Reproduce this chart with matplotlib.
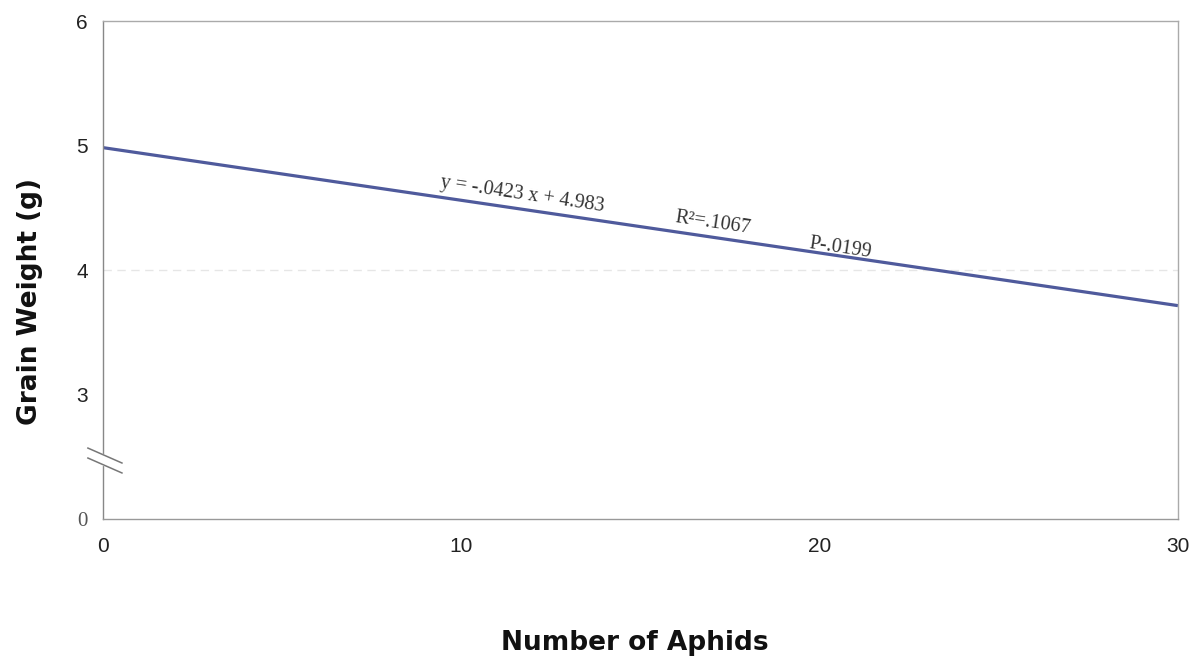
import numpy as np
import matplotlib
matplotlib.use('Agg')
import matplotlib.pyplot as plt

# regression line: y = -.0423 x + 4.983
x_ends = [0, 30]
slope = -0.0423
intercept = 4.983
y_ends = [intercept + slope * x for x in x_ends]

xticks = [0, 10, 20, 30]
# y axis is broken: the "0" label sits one step below 3
ytick_pos = [2, 3, 4, 5, 6]
ytick_lab = ['0', '3', '4', '5', '6']

eq_text = 'y = -.0423 x + 4.983'
r2_text = 'R\u00b2=.1067'
p_text = 'P-.0199'

fig = plt.figure(figsize=(12, 6.65), dpi=100)
ax = fig.add_axes([0.0858, 0.2195, 0.8958, 0.7489])

ax.axhline(4, color='#e6e6e6', lw=1, ls=(0, (6, 4)), zorder=0)
ax.plot(x_ends, y_ends, color='#4f5a9c', lw=2.3, solid_capstyle='butt')

ax.set_xlim(0, 30)
ax.set_ylim(2, 6)
ax.set_xticks(xticks)
ax.set_xticklabels([str(t) for t in xticks], fontsize=15, color='#222222',
                   family='Liberation Sans')
ax.set_yticks(ytick_pos)
ax.set_yticklabels(ytick_lab, fontsize=15, color='#222222',
                   family='Liberation Sans')
ax.tick_params(length=0)
ax.tick_params(axis='y', pad=11)
ax.tick_params(axis='x', pad=13)
ax.get_yticklabels()[0].set_family('Liberation Serif')
ax.get_yticklabels()[0].set_color('#555555')

for s in ax.spines.values():
    s.set_color('#aaaaaa')
    s.set_linewidth(1)
ax.spines['left'].set_color('#888888')
ax.spines['bottom'].set_color('#999999')

# axis break marks with a small gap in the spine
ax.plot([0, 0], [2.445, 2.51], color='white', lw=3, clip_on=False, zorder=5)
for dy in (0.0, 0.08):
    ax.plot([-0.42, 0.53], [2.57 - dy, 2.45 - dy], color='#777777', lw=1.1,
            clip_on=False, zorder=6)

ang = -8.4
for tx, ty, s in [(9.4, 4.667, eq_text), (15.96, 4.386, r2_text),
                  (19.7, 4.177, p_text)]:
    ax.text(tx, ty, s, rotation=ang, rotation_mode='anchor',
            family='Liberation Serif', fontsize=14.5, color='#333333')

fig.text(635 / 1200, 1 - 643 / 665, 'Number of Aphids', fontsize=19,
         fontweight='bold', ha='center', va='center', color='#111111')
fig.text(30 / 1200, 1 - 302 / 665, 'Grain Weight (g)', fontsize=19,
         fontweight='bold', ha='center', va='center', rotation=90,
         color='#111111')

fig.savefig('out.png', dpi=100)
